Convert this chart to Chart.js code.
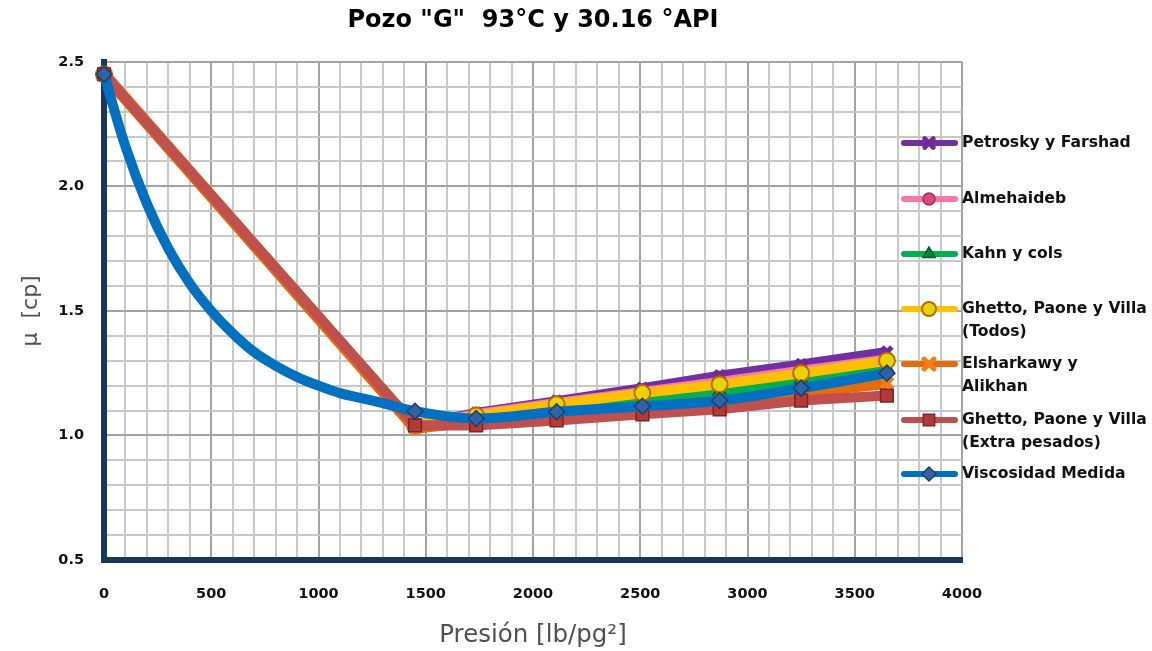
<!DOCTYPE html>
<html>
<head>
<meta charset="utf-8">
<script src="https://cdn.jsdelivr.net/npm/chart.js@4/dist/chart.umd.min.js"></script>
<style>
  body { margin: 0; background: #fff; }
</style>
</head>
<body>
<canvas id="graficoPozo" width="1152" height="651"></canvas>
<script>
/* ── DATOS ── presión [lb/pg²] y viscosidad [cp] por correlación */
var presion = [0, 1450, 1735, 2110, 2510, 2870, 3250, 3650];
var petrosky = [2.45, 1.04, 1.09, 1.138, 1.19, 1.24, 1.285, 1.335];
var almehaideb = [2.45, 1.04, 1.085, 1.13, 1.175, 1.215, 1.26, 1.305];
var kahn = [2.45, 1.04, 1.075, 1.11, 1.14, 1.175, 1.225, 1.27];
var ghettoTodos = [2.45, 1.04, 1.08, 1.125, 1.17, 1.205, 1.25, 1.30];
var elsharkawy = [2.45, 1.03, 1.06, 1.075, 1.11, 1.135, 1.175, 1.21];
var ghettoExtra = [2.45, 1.04, 1.04, 1.06, 1.085, 1.105, 1.14, 1.16];
/* la curva medida tiene puntos intermedios (sin marcador) entre 0 y 1450 */
var medidaX = [0, 100, 200, 300, 400, 500, 600, 700, 800, 900, 1000, 1100, 1200, 1300,
               1450, 1735, 2110, 2510, 2870, 3250, 3650];
var medidaY = [2.45, 2.16, 1.93, 1.75, 1.61, 1.50, 1.41, 1.335, 1.28, 1.235, 1.20, 1.17, 1.15, 1.13,
               1.097, 1.068, 1.095, 1.117, 1.14, 1.19, 1.25];

var nombres = ['Petrosky y Farshad', 'Almehaideb', 'Kahn y cols', 'Ghetto, Paone y Villa\n(Todos)',
               'Elsharkawy y\nAlikhan', 'Ghetto, Paone y Villa\n(Extra pesados)', 'Viscosidad Medida'];
var ticksX = [0, 500, 1000, 1500, 2000, 2500, 3000, 3500, 4000];
var ticksY = [0.5, 1.0, 1.5, 2.0, 2.5];

var fuente = '"DejaVu Sans", "Liberation Sans", Arial, sans-serif';

/* estilos de cada serie: color de línea y marcador */
var estilos = [
  { linea: '#7030a0', relleno: '#7a3cb0', borde: '#6a2c98', punto: 'crossRot', radio: 7, grosor: 5, ancho: 10 },
  { linea: '#ff77a8', relleno: '#d84a82', borde: '#9e2c5a', punto: 'circle', radio: 7, grosor: 1.5, ancho: 10 },
  { linea: '#00b050', relleno: '#008a3e', borde: '#005c28', punto: 'triangle', radio: 8, grosor: 1.5, ancho: 10 },
  { linea: '#ffc000', relleno: '#e8d400', borde: '#b86a00', punto: 'circle', radio: 8, grosor: 2, ancho: 10 },
  { linea: '#e46c0a', relleno: '#f47c14', borde: '#f47c14', punto: 'crossRot', radio: 8, grosor: 5, ancho: 12 },
  { linea: '#c0504d', relleno: '#b23a3a', borde: '#7e2222', punto: 'rect', radio: 9, grosor: 1.5, ancho: 10 },
  { linea: '#0070c0', relleno: '#2e64a6', borde: '#1f3d66', punto: 'rectRot', radio: 8, grosor: 1.5, ancho: 10 }
];

function aPuntos(xs, ys) {
  return xs.map(function (x, i) { return { x: x, y: ys[i] }; });
}

var series = [petrosky, almehaideb, kahn, ghettoTodos, elsharkawy, ghettoExtra];
var datasets = series.map(function (valores, i) {
  var e = estilos[i];
  return {
    label: nombres[i],
    data: aPuntos(presion, valores),
    borderColor: e.linea, borderWidth: e.ancho,
    pointStyle: e.punto, pointRadius: e.radio, pointBorderWidth: e.grosor,
    pointBackgroundColor: e.relleno, pointBorderColor: e.borde,
    showLine: true, clip: false, order: 6 - i
  };
});
var eM = estilos[6];
datasets.push({
  label: nombres[6],
  data: aPuntos(medidaX, medidaY),
  borderColor: eM.linea, borderWidth: eM.ancho,
  pointStyle: eM.punto,
  /* marcador sólo en las presiones medidas */
  pointRadius: function (ctx) { return presion.indexOf(medidaX[ctx.dataIndex]) >= 0 ? eM.radio : 0; },
  pointBorderWidth: eM.grosor, pointBackgroundColor: eM.relleno, pointBorderColor: eM.borde,
  showLine: true, clip: false, order: 0, tension: 0.4
});

/* leyenda dibujada a mano: línea + marcador + texto en varias líneas */
var leyendaPlugin = {
  id: 'leyendaPozo',
  afterDraw: function (chart) {
    var ctx = chart.ctx;
    var centros = [143, 199, 254, 309, 364, 420, 474];
    ctx.save();
    ctx.font = 'bold 15.6px ' + fuente;
    ctx.textBaseline = 'middle';
    ctx.textAlign = 'left';
    nombres.forEach(function (nombre, i) {
      var e = estilos[i], y = centros[i];
      ctx.strokeStyle = e.linea;
      ctx.lineWidth = 6;
      ctx.lineCap = 'round';
      ctx.beginPath(); ctx.moveTo(904, y); ctx.lineTo(955, y); ctx.stroke();
      ctx.fillStyle = e.relleno;
      ctx.strokeStyle = e.borde;
      ctx.lineWidth = e.grosor;
      Chart.helpers.drawPoint(ctx, { pointStyle: e.punto, radius: e.radio - 1, borderWidth: e.grosor, rotation: 0 }, 929, y);
      ctx.fillStyle = '#111';
      nombre.split('\n').forEach(function (linea, j) {
        ctx.fillText(linea, 962, y + j * 22.7);
      });
    });
    ctx.restore();
  }
};

function esMayor(v, paso) { return Math.abs(v / paso - Math.round(v / paso)) < 1e-6; }

new Chart(document.getElementById('graficoPozo'), {
  type: 'scatter',
  data: { datasets: datasets },
  plugins: [leyendaPlugin],
  options: {
    responsive: false,
    animation: false,
    layout: { padding: { left: 0, right: 190, top: 0, bottom: 0 } },
    plugins: {
      legend: { display: false },
      tooltip: { enabled: false },
      title: {
        display: true, fullSize: false,
        text: 'Pozo "G"  93°C y 30.16 °API',
        color: '#000',
        font: { family: fuente, size: 24, weight: 'bold' },
        padding: { top: 6, bottom: 27 }
      }
    },
    scales: {
      x: {
        type: 'linear', min: 0, max: 4000,
        afterFit: function (s) { s.height = 91; },
        afterBuildTicks: function (s) {
          var t = [];
          for (var v = 0; v <= 4000; v += 100) t.push({ value: v });
          s.ticks = t;
        },
        ticks: {
          autoSkip: false, maxRotation: 0, padding: 26, color: '#111',
          font: { family: fuente, size: 14.5, weight: 'bold' },
          callback: function (v) { return ticksX.indexOf(v) >= 0 ? String(v) : ''; }
        },
        grid: {
          drawTicks: false, lineWidth: 2,
          color: function (c) { return esMayor(c.tick.value, 500) ? '#a3a3a3' : '#c8c8c8'; }
        },
        border: { display: true, color: '#17375e', width: 6 },
        title: {
          display: true, text: 'Presión [lb/pg²]', color: '#505050',
          font: { family: fuente, size: 24.5, weight: 'normal' },
          padding: { top: 0, bottom: 1 }
        }
      },
      y: {
        type: 'linear', min: 0.5, max: 2.5,
        afterFit: function (s) { s.width = 104; },
        afterBuildTicks: function (s) {
          var t = [];
          for (var k = 0; k <= 20; k++) t.push({ value: Math.round((0.5 + k * 0.1) * 10) / 10 });
          s.ticks = t;
        },
        ticks: {
          autoSkip: false, padding: 20, color: '#111',
          font: { family: fuente, size: 14.5, weight: 'bold' },
          callback: function (v) { return ticksY.indexOf(v) >= 0 ? v.toFixed(1) : ''; }
        },
        grid: {
          drawTicks: false, lineWidth: 2,
          color: function (c) { return esMayor(c.tick.value, 0.5) ? '#a3a3a3' : '#c8c8c8'; }
        },
        border: { display: true, color: '#17375e', width: 6 },
        title: {
          display: true, text: 'μ  [cp]', color: '#505050',
          font: { family: fuente, size: 22, weight: 'normal' },
          padding: { top: 18, bottom: 0 }
        }
      }
    }
  }
});
</script>
</body>
</html>
